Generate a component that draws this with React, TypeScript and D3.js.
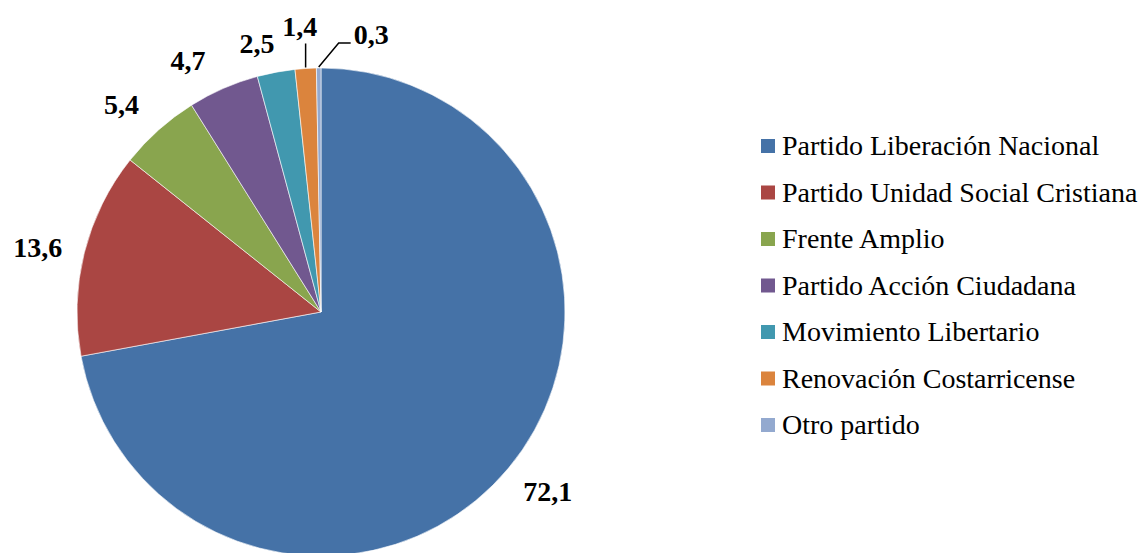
import React, { useEffect, useRef } from "react";
import * as d3 from "d3";

const parties = [
  "Partido Liberación Nacional",
  "Partido Unidad Social Cristiana",
  "Frente Amplio",
  "Partido Acción Ciudadana",
  "Movimiento Libertario",
  "Renovación Costarricense",
  "Otro partido",
];
const values = [72.1, 13.6, 5.4, 4.7, 2.5, 1.4, 0.3];
const colors = ["#4572A7", "#AA4643", "#89A54E", "#71588F", "#4198AF", "#DB843D", "#93A9CF"];

// label placement relative to slice mid-angle (degrees) and radius beyond pie edge
const labelAngleOffset = [-1.5, -1.2, -2.1, -4.3, -2.8];
const labelGap = [45, 46.5, 44, 40.5, 32];

const W = 1140;
const H = 553;
const FONT = "'Times New Roman', 'Liberation Serif', Times, 'DejaVu Serif', serif";

export default function App() {
  const ref = useRef<SVGSVGElement>(null);

  useEffect(() => {
    const svg = d3.select(ref.current);
    svg.selectAll("*").remove();

    const cx = 321, cy = 312, r = 244;
    const g = svg.append("g").attr("transform", `translate(${cx},${cy})`);

    const pie = d3.pie<number>().sort(null).value((d) => d)(values);
    const arc = d3.arc<d3.PieArcDatum<number>>().innerRadius(0).outerRadius(r);

    g.selectAll("path.slice")
      .data(pie)
      .enter()
      .append("path")
      .attr("class", "slice")
      .attr("d", arc as any)
      .attr("fill", (_d, i) => colors[i])
      .attr("stroke", "#ffffff")
      .attr("stroke-width", 0.6);

    const fmt = (v: number) => v.toFixed(1).replace(".", ",");
    const pt = (a: number, rr: number) => [Math.sin(a) * rr, -Math.cos(a) * rr];
    const addLabel = (x: number, y: number, anchor: string, t: string) =>
      g.append("text")
        .attr("x", x)
        .attr("y", y)
        .attr("text-anchor", anchor)
        .style("font-family", FONT)
        .style("font-weight", "bold")
        .style("font-size", "28px")
        .attr("fill", "#000")
        .text(t);

    pie.forEach((d, i) => {
      const mid = (d.startAngle + d.endAngle) / 2;
      if (i < 5) {
        const a = mid + (labelAngleOffset[i] * Math.PI) / 180;
        const [x, y] = pt(a, r + labelGap[i]);
        addLabel(x, y + 9.5, "middle", fmt(values[i]));
      } else if (i === 5) {
        const [x0, y0] = pt(mid, r + 1);
        const y1 = y0 - 24;
        g.append("line")
          .attr("x1", x0).attr("y1", y0).attr("x2", x0).attr("y2", y1)
          .attr("stroke", "#000").attr("stroke-width", 1.5);
        addLabel(x0 - 6, y1 - 7, "middle", fmt(values[i]));
      } else {
        const [x0, y0] = pt(mid, r + 1);
        const x1 = x0 + 20, y1 = y0 - 24;
        const x2 = x1 + 12;
        g.append("polyline")
          .attr("points", `${x0},${y0} ${x1},${y1} ${x2},${y1}`)
          .attr("fill", "none")
          .attr("stroke", "#000").attr("stroke-width", 1.5);
        addLabel(x2 + 3, y1 + 1, "start", fmt(values[i]));
      }
    });

    const lx = 761, ly0 = 146, step = 46.5;
    const leg = svg.append("g");
    parties.forEach((p, i) => {
      const y = ly0 + i * step;
      leg.append("rect")
        .attr("x", lx).attr("y", y - 7).attr("width", 14).attr("height", 14)
        .attr("fill", colors[i]);
      leg.append("text")
        .attr("x", lx + 21).attr("y", y + 9)
        .style("font-family", FONT)
        .style("font-size", "28px")
        .attr("fill", "#000")
        .text(p);
    });
  }, []);

  return (
    <div style={{ position: "absolute", left: 0, top: 0 }}>
      <svg ref={ref} width={W} height={H} style={{ display: "block", background: "#fff" }} />
    </div>
  );
}
